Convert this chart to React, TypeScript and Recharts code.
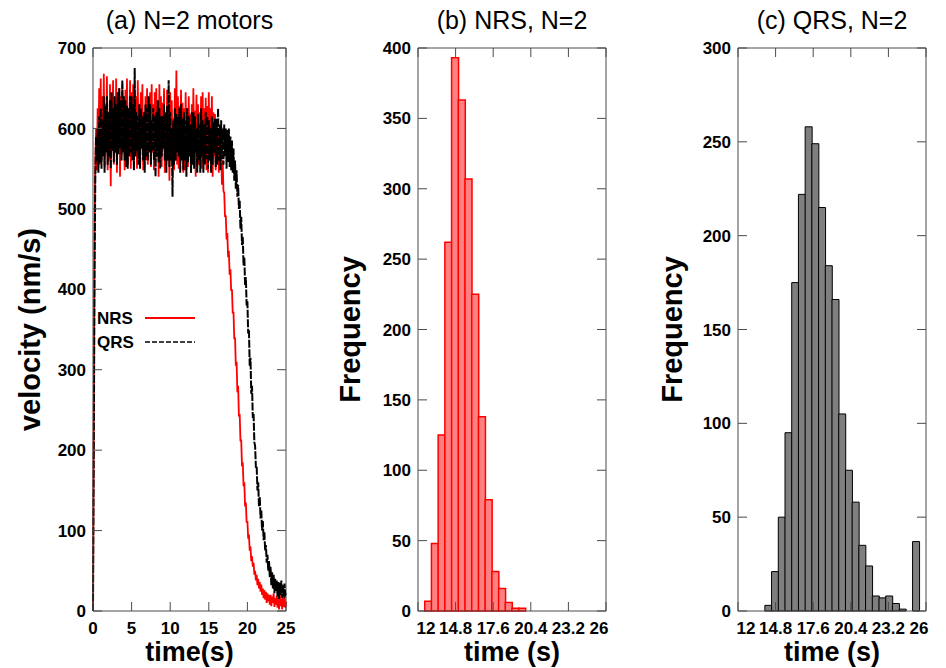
import React from 'react';
import { LineChart, Line, BarChart, Bar, XAxis, YAxis, Legend, ReferenceLine } from 'recharts';

// (a) velocity traces, sampled every 0.1 s from 0 to 25 s (one row = one second)
const TIME_STEP = 0.1;
const nrsVelocity = [
  0, 250, 470, 560, 600, 548, 625, 570, 650, 555,
  662, 560, 640, 575, 668, 552, 630, 590, 665, 548,
  615, 560, 655, 528, 640, 585, 660, 555, 632, 570,
  662, 545, 620, 580, 650, 540, 640, 565, 655, 575,
  630, 548, 648, 570, 662, 556, 625, 585, 660, 550,
  645, 565, 655, 548, 632, 575, 640, 550, 660, 568,
  625, 556, 645, 575, 655, 548, 620, 568, 640, 560,
  650, 555, 638, 580, 645, 552, 655, 570, 630, 548,
  645, 560, 650, 575, 628, 540, 655, 566, 640, 552,
  632, 575, 650, 545, 620, 558, 648, 572, 628, 535,
  645, 560, 635, 578, 612, 548, 650, 560, 672, 555,
  640, 550, 628, 580, 648, 562, 632, 545, 625, 548,
  645, 565, 625, 552, 640, 575, 618, 545, 630, 560,
  650, 575, 622, 540, 642, 568, 630, 555, 620, 565,
  640, 550, 645, 572, 625, 560, 638, 548, 628, 545,
  645, 560, 625, 555, 640, 540, 620, 565, 618, 548,
  610, 560, 600, 545, 598, 555, 580, 530, 560, 522,
  520, 490, 492, 462, 470, 440, 448, 418, 425, 398,
  400, 370, 372, 338, 340, 305, 310, 272, 280, 242,
  245, 212, 212, 180, 185, 155, 160, 130, 135, 110,
  112, 90, 95, 75, 80, 62, 68, 55, 60, 45,
  50, 38, 45, 32, 40, 28, 36, 24, 33, 20,
  28, 16, 26, 14, 24, 10, 22, 12, 20, 8,
  20, 6, 18, 10, 22, 5, 16, 8, 19, 4,
  17, 2, 20, 6, 15, 2, 18, 5, 22, 4,
  12,
];
const qrsVelocity = [
  0, 200, 420, 540, 590, 560, 600, 545, 615, 558,
  625, 550, 610, 565, 640, 545, 628, 570, 640, 555,
  620, 565, 635, 550, 645, 572, 625, 558, 640, 570,
  630, 555, 645, 568, 650, 575, 635, 560, 660, 570,
  640, 560, 635, 552, 628, 550, 625, 565, 640, 570,
  640, 560, 630, 548, 675, 565, 620, 572, 615, 555,
  630, 550, 625, 575, 615, 560, 620, 545, 630, 565,
  625, 560, 640, 570, 630, 555, 610, 572, 625, 560,
  615, 540, 620, 565, 635, 558, 625, 550, 615, 565,
  615, 575, 630, 560, 620, 545, 628, 560, 660, 552,
  620, 560, 600, 515, 610, 555, 625, 560, 618, 570,
  615, 565, 625, 545, 630, 560, 612, 548, 620, 560,
  610, 540, 625, 558, 615, 565, 605, 545, 620, 555,
  620, 550, 615, 570, 600, 545, 618, 560, 605, 545,
  625, 565, 610, 545, 605, 555, 620, 562, 615, 550,
  610, 560, 600, 545, 615, 555, 608, 570, 612, 552,
  612, 555, 625, 560, 605, 548, 610, 562, 600, 555,
  605, 565, 600, 550, 598, 558, 600, 552, 590, 548,
  585, 545, 575, 535, 560, 525, 548, 515, 530, 500,
  510, 475, 490, 455, 465, 430, 440, 405, 415, 380,
  385, 345, 350, 305, 315, 270, 280, 240, 245, 210,
  205, 178, 180, 150, 160, 130, 142, 115, 125, 100,
  112, 88, 98, 75, 82, 60, 70, 50, 62, 42,
  55, 32, 48, 28, 45, 22, 40, 25, 38, 18,
  36, 15, 35, 20, 38, 16, 32, 18, 34, 20,
  22,
];
const timeTicks = [0, 5, 10, 15, 20, 25];
const velocityTicks = [0, 100, 200, 300, 400, 500, 600, 700];

// (b) NRS and (c) QRS histograms, 0.5 s bins (bin centres)
const nrsBins = [12.75, 13.25, 13.75, 14.25, 14.75, 15.25, 15.75, 16.25, 16.75, 17.25, 17.75, 18.25, 18.75, 19.25, 19.75];
const nrsCounts = [7, 48, 125, 262, 393, 363, 307, 225, 138, 79, 28, 16, 6, 2, 2];
const qrsBins = [
  14.25, 14.75, 15.25, 15.75, 16.25, 16.75, 17.25, 17.75, 18.25, 18.75, 19.25, 19.75,
  20.25, 20.75, 21.25, 21.75, 22.25, 22.75, 23.25, 23.75, 24.25, 24.75, 25.25,
];
const qrsCounts = [3, 21, 50, 95, 175, 222, 258, 249, 215, 184, 166, 105, 75, 58, 35, 24, 8, 7, 8, 4, 1, 0, 37];
const histTimeTicks = [12, 14.8, 17.6, 20.4, 23.2, 26];
const nrsFreqTicks = [0, 50, 100, 150, 200, 250, 300, 350, 400];
const qrsFreqTicks = [0, 50, 100, 150, 200, 250, 300];

const velocityData = nrsVelocity.map((v, i) => ({
  t: Math.round(i * TIME_STEP * 10) / 10,
  nrs: v,
  qrs: qrsVelocity[i],
}));
const nrsData = nrsBins.map((b, i) => ({ bin: b, count: nrsCounts[i] }));
const qrsData = qrsBins.map((b, i) => ({ bin: b, count: qrsCounts[i] }));

const FONT = '"Liberation Sans", Arial, Helvetica, sans-serif';
const FRAME = '#4a4a4a';
const TICK_LEN = 9;
const PLOT_TOP = 48;

const tickText = { fontFamily: FONT, fontWeight: 'bold' as const, fontSize: 17, fill: '#000' };

// bottom tick: inward tick at bottom and mirrored at top, plus label
function BottomTick(props: any) {
  const { x, y, payload, first, last } = props;
  let dx = 0;
  if (first !== undefined && payload.value === first) dx = 8;
  if (last !== undefined && payload.value === last) dx = -7;
  return (
    <g>
      <line x1={x} y1={y} x2={x} y2={y - TICK_LEN} stroke={FRAME} />
      <line x1={x} y1={PLOT_TOP} x2={x} y2={PLOT_TOP + TICK_LEN} stroke={FRAME} />
      <text x={x + dx} y={y + 23} textAnchor="middle" {...tickText}>
        {payload.value}
      </text>
    </g>
  );
}

// left tick: inward tick at left and mirrored at right, plus label
function LeftTick(props: any) {
  const { x, y, payload, right } = props;
  return (
    <g>
      <line x1={x} y1={y} x2={x + TICK_LEN} y2={y} stroke={FRAME} />
      <line x1={right} y1={y} x2={right - TICK_LEN} y2={y} stroke={FRAME} />
      <text x={x - 7} y={y} dy="0.36em" textAnchor="end" {...tickText}>
        {payload.value}
      </text>
    </g>
  );
}

// x axis label content: panel title above the plot and axis title below
const xTitles = (title: string, value: string) => (props: any) => {
  const vb = props.viewBox;
  const cx = vb.x + vb.width / 2;
  return (
    <g>
      <text x={cx} y={PLOT_TOP - 19} textAnchor="middle" fontFamily={FONT} fontSize={25} fill="#000">
        {title}
      </text>
      <text x={cx} y={vb.y + vb.height - 7} textAnchor="middle" fontFamily={FONT} fontWeight="bold" fontSize={27} fill="#000">
        {value}
      </text>
    </g>
  );
};

const yTitle = (value: string, cx: number) => (props: any) => {
  const vb = props.viewBox;
  const cy = vb.y + vb.height / 2;
  return (
    <text
      x={cx}
      y={cy}
      dy="0.36em"
      transform={`rotate(-90 ${cx} ${cy})`}
      textAnchor="middle"
      fontFamily={FONT}
      fontWeight="bold"
      fontSize={29}
      fill="#000"
    >
      {value}
    </text>
  );
};

function VelocityLegend(props: any) {
  const { payload } = props;
  return (
    <svg width={110} height={50}>
      {(payload || []).map((entry: any, i: number) => (
        <g key={entry.value}>
          <text x={2} y={19 + i * 24} {...tickText}>
            {entry.value}
          </text>
          <line
            x1={50}
            y1={13 + i * 24}
            x2={100}
            y2={13 + i * 24}
            stroke={entry.color}
            strokeWidth={i === 0 ? 2 : 1.5}
            strokeDasharray={i === 0 ? undefined : '5 2'}
          />
        </g>
      ))}
    </svg>
  );
}

function VelocityPanel() {
  const width = 300;
  const rightMargin = 14;
  return (
    <LineChart width={width} height={668} data={velocityData} margin={{ top: PLOT_TOP, right: rightMargin, bottom: 0, left: 0 }}>
      <XAxis
        dataKey="t"
        type="number"
        domain={[0, 25]}
        ticks={timeTicks}
        height={57}
        tickSize={0}
        tickMargin={0}
        tickLine={false}
        axisLine={{ stroke: FRAME }}
        tick={<BottomTick />}
        label={xTitles('(a) N=2 motors', 'time(s)')}
      />
      <YAxis
        type="number"
        domain={[0, 700]}
        ticks={velocityTicks}
        width={93}
        tickSize={0}
        tickMargin={0}
        tickLine={false}
        axisLine={{ stroke: FRAME }}
        tick={<LeftTick right={width - rightMargin} />}
        label={yTitle('velocity (nm/s)', 30)}
      />
      <ReferenceLine y={700} stroke={FRAME} />
      <ReferenceLine x={25} stroke={FRAME} />
      <Legend
        layout="horizontal"
        align="center"
        verticalAlign="middle"
        content={<VelocityLegend />}
        wrapperStyle={{ position: 'absolute', left: 95, top: 305, width: 110, height: 50 }}
      />
      <Line
        dataKey="nrs"
        name="NRS"
        stroke="#ff0000"
        strokeWidth={1.8}
        dot={false}
        type="linear"
        isAnimationActive={false}
      />
      <Line
        dataKey="qrs"
        name="QRS"
        stroke="#000000"
        strokeWidth={2}
        strokeDasharray="8 1.5"
        dot={false}
        type="linear"
        isAnimationActive={false}
      />
    </LineChart>
  );
}

function HistPanel(props: {
  data: { bin: number; count: number }[];
  yTicks: number[];
  width: number;
  rightMargin: number;
  title: string;
  yTitleX: number;
  fill: string;
  stroke: string;
  strokeWidth: number;
}) {
  const { data, yTicks, width, rightMargin, title, yTitleX, fill, stroke, strokeWidth } = props;
  const yMax = yTicks[yTicks.length - 1];
  return (
    <BarChart
      width={width}
      height={668}
      data={data}
      margin={{ top: PLOT_TOP, right: rightMargin, bottom: 0, left: 0 }}
      barCategoryGap={0}
      barGap={0}
    >
      <XAxis
        dataKey="bin"
        type="number"
        domain={[12, 26]}
        ticks={histTimeTicks}
        allowDataOverflow
        height={57}
        tickSize={0}
        tickMargin={0}
        tickLine={false}
        axisLine={{ stroke: FRAME }}
        tick={<BottomTick first={12} last={26} />}
        label={xTitles(title, 'time (s)')}
      />
      <YAxis
        type="number"
        domain={[0, yMax]}
        ticks={yTicks}
        width={98}
        tickSize={0}
        tickMargin={0}
        tickLine={false}
        axisLine={{ stroke: FRAME }}
        tick={<LeftTick right={width - rightMargin} />}
        label={yTitle('Frequency', yTitleX)}
      />
      <ReferenceLine y={yMax} stroke={FRAME} />
      <ReferenceLine x={26} stroke={FRAME} />
      <Bar dataKey="count" fill={fill} stroke={stroke} strokeWidth={strokeWidth} isAnimationActive={false} />
    </BarChart>
  );
}

export default function App() {
  return (
    <div style={{ position: 'absolute', left: 0, top: 0, width: 946, height: 668, background: '#fff' }}>
      <div style={{ position: 'absolute', left: 0, top: 0 }}>
        <VelocityPanel />
      </div>
      <div style={{ position: 'absolute', left: 320, top: 0 }}>
        <HistPanel
          data={nrsData}
          yTicks={nrsFreqTicks}
          width={300}
          rightMargin={14}
          title="(b) NRS, N=2"
          yTitleX={30}
          fill="#ff8080"
          stroke="#ff0000"
          strokeWidth={1.5}
        />
      </div>
      <div style={{ position: 'absolute', left: 640, top: 0 }}>
        <HistPanel
          data={qrsData}
          yTicks={qrsFreqTicks}
          width={306}
          rightMargin={20}
          title="(c) QRS, N=2"
          yTitleX={32}
          fill="#7f7f7f"
          stroke="#000000"
          strokeWidth={1}
        />
      </div>
    </div>
  );
}
